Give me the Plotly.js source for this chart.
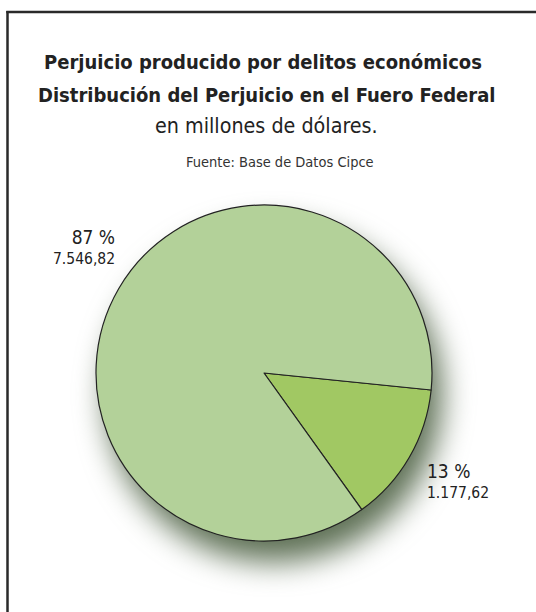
<!DOCTYPE html>
<html>
<head>
<meta charset="utf-8">
<script src="https://cdn.plot.ly/plotly-2.35.2.min.js"></script>
<style>
html,body{margin:0;padding:0;background:#fff;overflow:hidden;}
#chart{width:536px;height:612px;}
</style>
</head>
<body>
<div id="chart"></div>
<script>
// Data
var categories = ['Fuero Federal (parte menor)', 'Fuero Federal (parte mayor)'];
var values = [1177.62, 7546.82];
var percents = [13, 87];
var sliceColors = ['#a1c863', '#b3d199'];

var titleLine1 = '<b>Perjuicio producido por delitos económicos</b>';
var titleLine2 = '<b>Distribución del Perjuicio en el Fuero Federal</b>';
var subtitle = 'en millones de dólares.';
var source = 'Fuente: Base de Datos Cipce';

var FONT = '"DejaVu Sans Condensed", "DejaVu Sans", sans-serif';
var W = 536, H = 612;
var cx = 264, cy = 373, R = 168;
var dom = {
  x: [(cx - R) / W, (cx + R) / W],
  y: [(H - cy - R) / H, (H - cy + R) / H]
};
var rot = 95.8;

function fmt(v) {
  var s = v.toFixed(2).split('.');
  var ip = s[0].replace(/\B(?=(\d{3})+(?!\d))/g, '.');
  return ip + ',' + s[1];
}
function labelText(i) {
  return '<span style="font-size:19px">' + percents[i] + ' %</span><br>' + fmt(values[i]);
}

var shadowTrace = {
  type: 'pie',
  values: values,
  labels: categories,
  sort: false,
  direction: 'clockwise',
  rotation: rot,
  domain: dom,
  marker: {colors: ['#5f7156', '#5f7156'], line: {width: 0}},
  textinfo: 'none',
  hoverinfo: 'skip',
  showlegend: false
};

var pieTrace = {
  type: 'pie',
  values: values,
  labels: categories,
  sort: false,
  direction: 'clockwise',
  rotation: rot,
  domain: dom,
  marker: {colors: sliceColors, line: {color: '#222', width: 1.2}},
  textinfo: 'none',
  showlegend: false,
  hoverinfo: 'label+value'
};

var layout = {
  width: W, height: H,
  margin: {l: 0, r: 0, t: 0, b: 0},
  paper_bgcolor: '#ffffff',
  showlegend: false,
  title: {
    text: titleLine1,
    font: {family: FONT, size: 20, color: '#222'},
    x: 263 / W, xanchor: 'center',
    y: 1 - 62 / H, yanchor: 'middle'
  },
  annotations: [
    {text: titleLine2, xref: 'paper', yref: 'paper', x: 266 / W, y: 1 - 95 / H,
     xanchor: 'center', yanchor: 'middle', showarrow: false,
     font: {family: FONT, size: 20, color: '#222'}},
    {text: subtitle, xref: 'paper', yref: 'paper', x: 266 / W, y: 1 - 126 / H,
     xanchor: 'center', yanchor: 'middle', showarrow: false,
     font: {family: FONT, size: 21.3, color: '#222'}},
    {text: source, xref: 'paper', yref: 'paper', x: 280 / W, y: 1 - 162 / H,
     xanchor: 'center', yanchor: 'middle', showarrow: false,
     font: {family: FONT, size: 14.5, color: '#333'}},
    {text: labelText(1), xref: 'paper', yref: 'paper', x: 117 / W, y: 1 - 247 / H,
     xanchor: 'right', yanchor: 'middle', align: 'right', showarrow: false,
     font: {family: FONT, size: 15.5, color: '#222'}},
    {text: labelText(0), xref: 'paper', yref: 'paper', x: 425 / W, y: 1 - 481 / H,
     xanchor: 'left', yanchor: 'middle', align: 'left', showarrow: false,
     font: {family: FONT, size: 15.5, color: '#222'}}
  ],
  shapes: [
    {type: 'line', xref: 'paper', yref: 'paper',
     x0: 7.5 / W, x1: 7.5 / W, y0: -0.05, y1: 1 - 11 / H,
     line: {color: '#2a2a2a', width: 2.5}},
    {type: 'line', xref: 'paper', yref: 'paper',
     x0: 6.3 / W, x1: 1.0, y0: 1 - 12 / H, y1: 1 - 12 / H,
     line: {color: '#2a2a2a', width: 2.5}}
  ]
};

Plotly.newPlot('chart', [shadowTrace, pieTrace], layout, {displayModeBar: false, staticPlot: true}).then(function () {
  var traces = document.querySelectorAll('.pielayer .trace');
  if (traces.length) {
    traces[0].style.filter = 'blur(15px)';
    traces[0].setAttribute('transform', (traces[0].getAttribute('transform') || '') + ' translate(10,21)');
  }
});
</script>
</body>
</html>
